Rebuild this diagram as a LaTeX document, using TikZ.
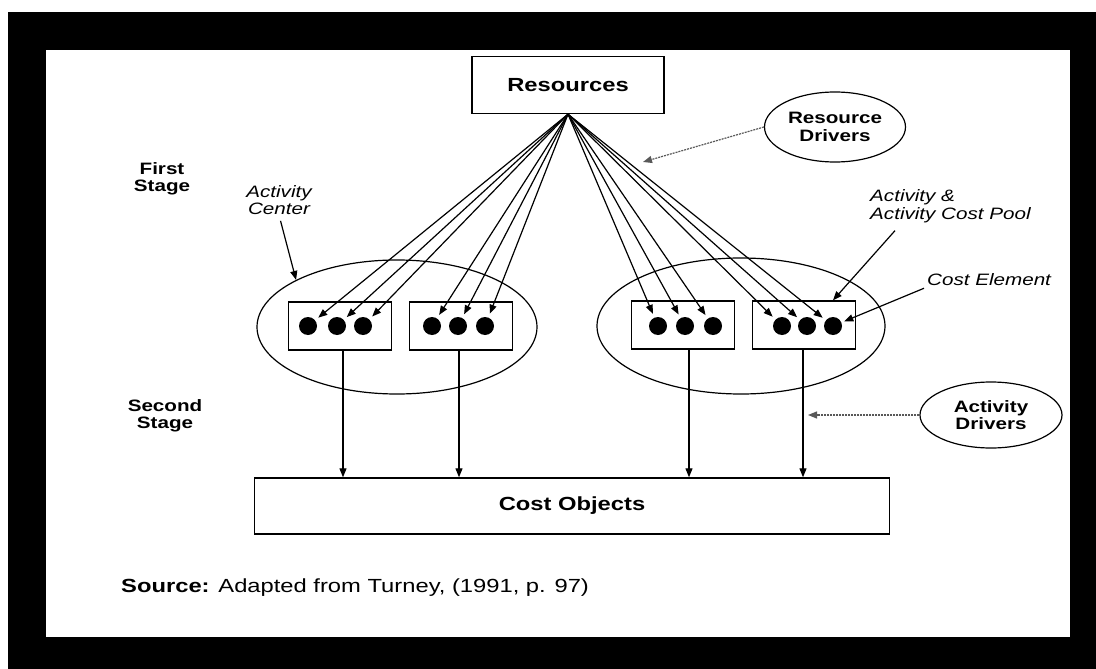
\documentclass[tikz,border=0pt]{standalone}
\usepackage{fontspec}
\setmainfont{Liberation Sans}[FakeStretch=1.25]
\usetikzlibrary{arrows.meta,shapes.geometric,calc}

\begin{document}
\begin{tikzpicture}[x=1pt,y=-1pt,
    fanarrow/.style={line width=1.2pt,-{Triangle[length=9pt,width=7pt]}},
    poolbox/.style={draw,line width=1.4pt,minimum width=103pt,minimum height=48pt,inner sep=0pt},
    costel/.style={circle,fill,minimum size=18pt,inner sep=0pt},
    mainbox/.style={draw,line width=1.4pt,font=\fontsize{19}{20}\selectfont\bfseries},
    driver/.style={ellipse,draw,line width=1.2pt,inner sep=0pt,align=center,font=\fontsize{16.5}{17.5}\selectfont\bfseries},
    actcenter/.style={ellipse,draw,line width=1.2pt,inner sep=0pt},
    stage/.style={inner sep=0pt,align=center,font=\fontsize{16.5}{17.5}\selectfont\bfseries},
    note/.style={inner sep=0pt,font=\fontsize{16.5}{17.5}\selectfont\itshape},
    dotline/.style={black!65,dash pattern=on 2pt off 1pt}
  ]
    \fill[black] (8,12) rectangle (1096,669);
    \fill[white] (46,50) rectangle (1070,637);
    \useasboundingbox (0,0) rectangle (1096,669);
    \node[mainbox,minimum width=192pt,minimum height=57pt] (res) at (568,85) {Resources};
    \node[driver,minimum width=141pt,minimum height=70pt] (rdrv) at (835,127) {Resource\\Drivers};
    \node[stage] (first) at (162,179) {First\\Stage};
    \node[stage] (second) at (165,416) {Second\\Stage};
    \node[actcenter,minimum width=280pt,minimum height=134pt] (lell) at (397,327) {};
    \node[actcenter,minimum width=288pt,minimum height=136pt] (rell) at (741,326) {};
    \foreach \b/\x/\y in {1/340/326,2/461/326,3/683/325,4/804/325}
      \node[poolbox] (b\b) at (\x,\y) {};
    \foreach \b/\xa/\xb/\xc in {1/308/337/363,2/432/458/485,3/658/685/713,4/782/807/833} {
      \node[costel] (d\b1) at (\xa,326) {};
      \node[costel] (d\b2) at (\xb,326) {};
      \node[costel] (d\b3) at (\xc,326) {};
    }
    \foreach \b in {1,...,4}
      \foreach \k in {1,2,3}
        \draw[fanarrow,shorten >=4pt] (res.south) -- (d\b\k);
    \node[mainbox,minimum width=635pt,minimum height=56pt] (cost) at (572,506) {Cost Objects};
    \foreach \b/\dx in {1/3,2/-2,3/6,4/-1}
      \draw[fanarrow] ([xshift=\dx pt]b\b.south) -- ([xshift=\dx pt]b\b.south |- cost.north);
    \node[driver,minimum width=142pt,minimum height=66pt] (adrv) at (991,415) {Activity\\Drivers};
    \coordinate (rdtip) at (643,162);
    \coordinate (adtip) at (808,415);
    \draw[fanarrow,dotline] (rdrv.west) -- (rdtip);
    \draw[fanarrow,dotline] (adrv.west) -- (adtip);
    \node[note,align=center] (acen) at (279,200) {Activity\\Center};
    \draw[fanarrow,shorten <=6pt] (acen.south) -- (lell.155);
    \node[note,align=left,anchor=west] (poolnote) at (870,206) {Activity \&\\Activity Cost Pool};
    \draw[fanarrow] ([xshift=25pt,yshift=-8pt]poolnote.south west) -- (d43 |- b4.north);
    \node[note,anchor=west] (celem) at (927,280) {Cost Element};
    \draw[fanarrow,shorten >=3pt] ([xshift=-3pt,yshift=-2pt]celem.south west) -- (d43);
    \node[inner sep=0pt,anchor=west,font=\fontsize{19}{20}\selectfont] (src) at (121,588) {\textbf{Source:} Adapted from Turney, (1991, p. 97)};
\end{tikzpicture}
\end{document}
